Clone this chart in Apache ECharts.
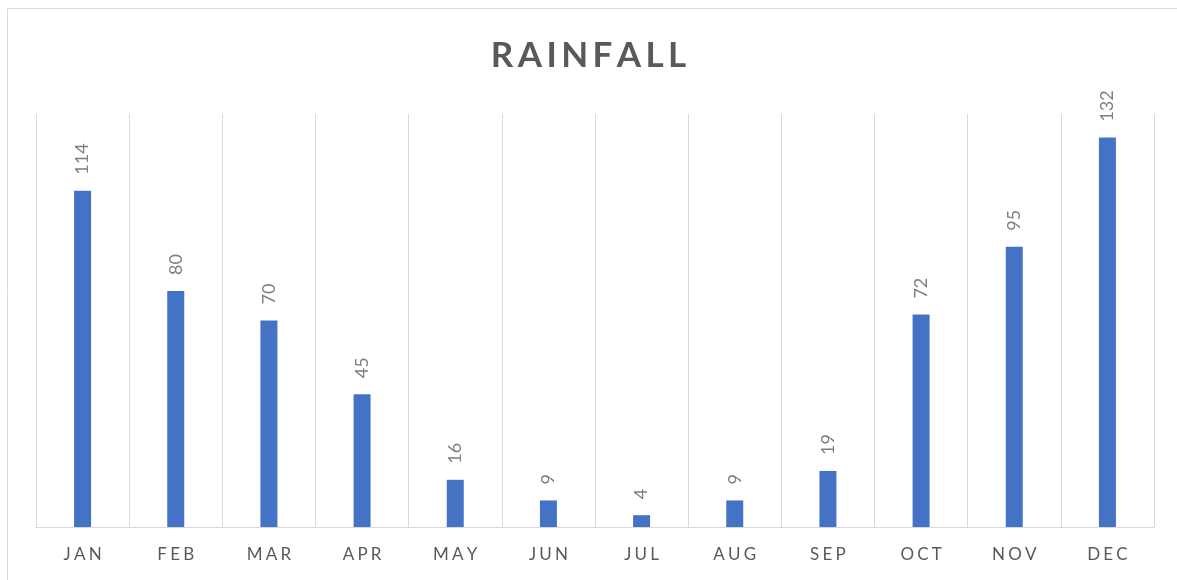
<!DOCTYPE html>
<html>
<head>
<meta charset="utf-8">
<script src="https://cdn.jsdelivr.net/npm/echarts@6/dist/echarts.min.js"></script>
<style>
  html, body { margin: 0; padding: 0; background: #fff; }
  #main { width: 1177px; height: 580px; }
</style>
</head>
<body>
<div id="main"></div>
<script>
var months = ['JAN', 'FEB', 'MAR', 'APR', 'MAY', 'JUN', 'JUL', 'AUG', 'SEP', 'OCT', 'NOV', 'DEC'];
var rainfall = [114, 80, 70, 45, 16, 9, 4, 9, 19, 72, 95, 132];
var titleText = 'RAINFALL';

// spread letters out a little, like the spreadsheet style
function spaced(s, gap) {
  return s.split('').join(gap);
}

var myChart = echarts.init(document.getElementById('main'));

var option = {
  backgroundColor: '#fff',
  animation: false,
  title: {
    text: spaced(titleText, '\u2009'),
    left: 'center',
    top: 33,
    textStyle: {
      fontFamily: 'Lato',
      fontSize: 35,
      fontWeight: 'bold',
      color: '#595959'
    }
  },
  graphic: [{
    type: 'rect',
    shape: { x: 7.5, y: 8.5, width: 1200, height: 600 },
    style: { fill: 'none', stroke: '#d9d9d9', lineWidth: 1 },
    silent: true
  }],
  grid: { left: 36, right: 23, top: 114, bottom: 53 },
  xAxis: {
    type: 'category',
    data: months,
    axisLine: { lineStyle: { color: '#d9d9d9', width: 1 } },
    axisTick: { show: false },
    splitLine: { show: true, interval: 0, lineStyle: { color: '#d9d9d9', width: 1 } },
    axisLabel: {
      margin: 19,
      interval: 0,
      fontFamily: 'Lato',
      fontSize: 17,
      color: '#595959',
      formatter: function (v) { return spaced(v, '\u2009\u200A'); }
    }
  },
  yAxis: {
    type: 'value',
    min: 0,
    max: 140,
    show: false,
    splitLine: { show: false }
  },
  series: [{
    name: 'Rainfall',
    type: 'bar',
    data: rainfall,
    barWidth: 17,
    itemStyle: { color: '#4472c4' },
    label: {
      show: true,
      position: 'top',
      rotate: 90,
      align: 'left',
      verticalAlign: 'middle',
      distance: 16,
      fontFamily: 'Lato',
      fontSize: 18,
      color: '#7f7f7f'
    }
  }]
};

myChart.setOption(option);
</script>
</body>
</html>
